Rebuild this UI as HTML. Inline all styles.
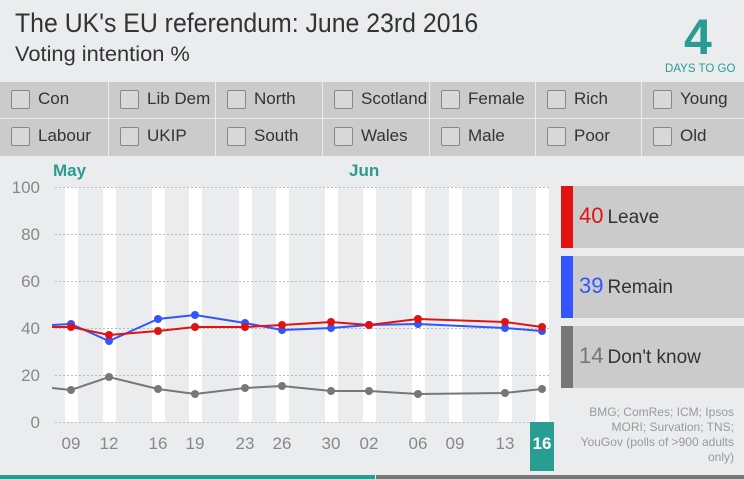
<!DOCTYPE html><html><head><style>
body{margin:0;width:744px;height:479px;background:#ebecee;font-family:"Liberation Sans",sans-serif;position:relative;overflow:hidden;color:#333}
.a{position:absolute;white-space:nowrap}
.cell{position:absolute;background:#cbcbcb;height:36px}
.cell span{position:absolute;left:38px;top:7px;font-size:17px;color:#333}
.cell i{position:absolute;left:11px;top:8px;width:17px;height:17px;border:1px solid #888;background:#d8d8d8;border-radius:2px}
.lg{position:absolute;left:561px;width:183px;height:62px;background:#cbcbcb}
.lg b{position:absolute;left:0;top:0;width:12px;height:62px}
.lg span{position:absolute;left:18px;top:17px;font-size:22px}
.lg em{font-style:normal;font-size:19px;color:#333;margin-left:4px}
</style></head><body>
<div class="a" style="left:15px;top:8px;font-size:27px;color:#333;transform:scaleX(0.92);transform-origin:0 0">The UK's EU referendum: June 23rd 2016</div>
<div class="a" style="left:15px;top:43px;font-size:21px;color:#333;transform:scaleX(1.04);transform-origin:0 0">Voting intention %</div>
<div class="a" style="left:684px;top:8px;font-size:50px;font-weight:bold;color:#2a9d92">4</div>
<div class="a" style="left:665px;top:61px;font-size:12px;color:#2a9d92;transform:scaleX(0.96);transform-origin:0 0">DAYS TO GO</div>
<div class="cell" style="left:0;top:82px;width:108px"><i></i><span>Con</span></div>
<div class="cell" style="left:109px;top:82px;width:106px"><i></i><span>Lib Dem</span></div>
<div class="cell" style="left:216px;top:82px;width:106px"><i></i><span>North</span></div>
<div class="cell" style="left:323px;top:82px;width:106px"><i></i><span>Scotland</span></div>
<div class="cell" style="left:430px;top:82px;width:105px"><i></i><span>Female</span></div>
<div class="cell" style="left:536px;top:82px;width:105px"><i></i><span>Rich</span></div>
<div class="cell" style="left:642px;top:82px;width:102px"><i></i><span>Young</span></div>
<div class="cell" style="left:0;top:119px;width:108px;height:37px"><i></i><span>Labour</span></div>
<div class="cell" style="left:109px;top:119px;width:106px;height:37px"><i></i><span>UKIP</span></div>
<div class="cell" style="left:216px;top:119px;width:106px;height:37px"><i></i><span>South</span></div>
<div class="cell" style="left:323px;top:119px;width:106px;height:37px"><i></i><span>Wales</span></div>
<div class="cell" style="left:430px;top:119px;width:105px;height:37px"><i></i><span>Male</span></div>
<div class="cell" style="left:536px;top:119px;width:105px;height:37px"><i></i><span>Poor</span></div>
<div class="cell" style="left:642px;top:119px;width:102px;height:37px"><i></i><span>Old</span></div>
<svg class="a" style="left:0;top:0" width="744" height="479">
<g fill="#fff">
<rect x="65" y="187" width="13" height="235"/><rect x="103" y="187" width="13" height="235"/><rect x="152" y="187" width="13" height="235"/><rect x="189" y="187" width="13" height="235"/><rect x="239" y="187" width="13" height="235"/><rect x="276" y="187" width="13" height="235"/><rect x="325" y="187" width="13" height="235"/><rect x="363" y="187" width="13" height="235"/><rect x="412" y="187" width="13" height="235"/><rect x="449" y="187" width="13" height="235"/><rect x="499" y="187" width="13" height="235"/><rect x="536" y="187" width="13" height="235"/>
</g>
<g stroke="#bbb" stroke-dasharray="2,2" stroke-width="1">
<line x1="55" x2="550" y1="187.5" y2="187.5"/><line x1="55" x2="550" y1="234.5" y2="234.5"/><line x1="55" x2="550" y1="281.5" y2="281.5"/><line x1="55" x2="550" y1="328.5" y2="328.5"/><line x1="55" x2="550" y1="375.5" y2="375.5"/><line x1="55" x2="550" y1="422.5" y2="422.5"/>
</g>
<g font-family="Liberation Sans, sans-serif" font-size="17" fill="#888" text-anchor="end">
<text x="40" y="193">100</text><text x="40" y="240">80</text><text x="40" y="287">60</text><text x="40" y="334">40</text><text x="40" y="381">20</text><text x="40" y="428">0</text>
</g>
<text x="53" y="176" font-size="17" font-weight="bold" fill="#2a9d92" font-family="Liberation Sans, sans-serif">May</text>
<text x="349" y="176" font-size="17" font-weight="bold" fill="#2a9d92" font-family="Liberation Sans, sans-serif">Jun</text>
<rect x="530" y="422" width="24" height="49" fill="#2a9d92"/>
<g font-family="Liberation Sans, sans-serif" font-size="17" fill="#888" text-anchor="middle">
<text x="71" y="449">09</text><text x="109" y="449">12</text><text x="158" y="449">16</text><text x="195" y="449">19</text><text x="245" y="449">23</text><text x="282" y="449">26</text><text x="331" y="449">30</text><text x="369" y="449">02</text><text x="418" y="449">06</text><text x="455" y="449">09</text><text x="505" y="449">13</text><text x="542" y="449" fill="#fff" font-weight="bold">16</text>
</g>
<polyline fill="none" stroke="#777" stroke-width="2" points="52,388 71,390 109,377 158,389 195,394 245,388 282,386 331,391 369,391 418,394 505,393 542,389"/>
<g fill="#777"><circle cx="71" cy="390" r="4"/><circle cx="109" cy="377" r="4"/><circle cx="158" cy="389" r="4"/><circle cx="195" cy="394" r="4"/><circle cx="245" cy="388" r="4"/><circle cx="282" cy="386" r="4"/><circle cx="331" cy="391" r="4"/><circle cx="369" cy="391" r="4"/><circle cx="418" cy="394" r="4"/><circle cx="505" cy="393" r="4"/><circle cx="542" cy="389" r="4"/></g>
<polyline fill="none" stroke="#3355ff" stroke-width="2" points="52,325 71,324 109,341 158,319 195,315 245,323 282,330 331,328 369,325 418,324 505,328 542,331"/>
<g fill="#3355ff"><circle cx="71" cy="324" r="4"/><circle cx="109" cy="341" r="4"/><circle cx="158" cy="319" r="4"/><circle cx="195" cy="315" r="4"/><circle cx="245" cy="323" r="4"/><circle cx="282" cy="330" r="4"/><circle cx="331" cy="328" r="4"/><circle cx="369" cy="325" r="4"/><circle cx="418" cy="324" r="4"/><circle cx="505" cy="328" r="4"/><circle cx="542" cy="331" r="4"/></g>
<polyline fill="none" stroke="#e31212" stroke-width="2" points="52,327 71,327 109,335 158,331 195,327 245,327 282,325 331,322 369,325 418,319 505,322 542,327"/>
<g fill="#e31212"><circle cx="71" cy="327" r="4"/><circle cx="109" cy="335" r="4"/><circle cx="158" cy="331" r="4"/><circle cx="195" cy="327" r="4"/><circle cx="245" cy="327" r="4"/><circle cx="282" cy="325" r="4"/><circle cx="331" cy="322" r="4"/><circle cx="369" cy="325" r="4"/><circle cx="418" cy="319" r="4"/><circle cx="505" cy="322" r="4"/><circle cx="542" cy="327" r="4"/></g>
<rect x="0" y="475" width="375" height="4" fill="#2a9d92"/><rect x="376" y="475" width="368" height="4" fill="#777"/>
</svg>
<div class="lg" style="top:186px"><b style="background:#e31212"></b><span style="color:#e31212">40<em>Leave</em></span></div>
<div class="lg" style="top:256px"><b style="background:#3355ff"></b><span style="color:#3355ff">39<em>Remain</em></span></div>
<div class="lg" style="top:326px"><b style="background:#777"></b><span style="color:#777">14<em>Don't know</em></span></div>
<div class="a" style="left:580px;top:405px;width:154px;text-align:right;white-space:normal;font-size:12px;line-height:15px;color:#999">BMG; ComRes; ICM; Ipsos MORI; Survation; TNS; YouGov (polls of &gt;900 adults only)</div>
</body></html>
